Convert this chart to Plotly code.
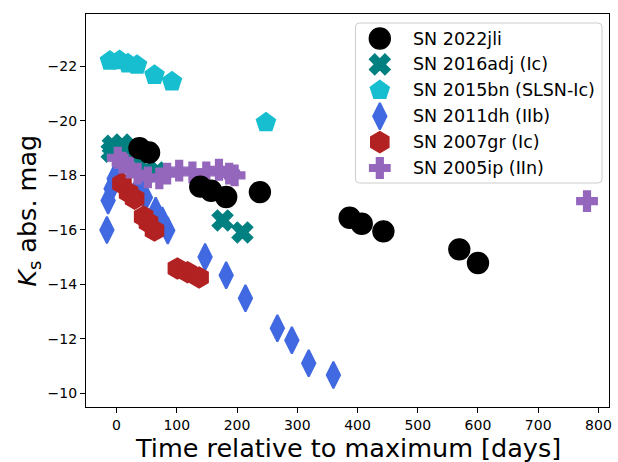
import plotly.graph_objects as go

# ---- light-curve data: days relative to maximum, Ks absolute magnitude ----
sn2022jli_t = [38, 54, 139, 157, 182, 238, 387, 407, 443, 569, 600]
sn2022jli_m = [-18.99, -18.83, -17.58, -17.43, -17.20, -17.38, -16.44, -16.22, -15.94, -15.28, -14.78]

sn2016adj_t = [-8, -6, 9, 25, 50, 66, 176, 209]
sn2016adj_m = [-18.86, -19.08, -19.12, -18.79, -18.17, -18.10, -16.34, -15.90]

sn2015bn_t = [-11, 5, 19, 34, 63, 92, 248]
sn2015bn_m = [-22.19, -22.21, -22.09, -22.04, -21.67, -21.43, -19.93]

sn2011dh_t = [-16, -14, -9, -4, 4, 38, 48, 65, 76, 85, 147, 182, 214, 267, 291, 319, 360]
sn2011dh_m = [-15.99, -17.07, -17.50, -17.87, -18.17, -17.62, -17.18, -16.70, -16.34, -15.97,
              -15.00, -14.33, -13.49, -12.39, -11.95, -11.10, -10.67]

sn2007gr_t = [9, 20, 30, 45, 53, 63, 101, 118, 137]
sn2007gr_m = [-17.69, -17.36, -17.14, -16.48, -16.26, -15.97, -14.58, -14.44, -14.25]

sn2005ip_t = [2, 10, 22, 35, 52, 71, 84, 104, 126, 149, 170, 187, 196, 781]
sn2005ip_m = [-18.64, -18.46, -18.28, -18.06, -17.92, -17.88, -18.06, -18.17, -18.10, -18.10,
              -18.20, -18.06, -17.99, -17.05]

x_ticks = [0, 100, 200, 300, 400, 500, 600, 700, 800]
y_ticks = [-22, -20, -18, -16, -14, -12, -10]

# label, times, mags, symbol, colour, size, edge width  (legend order)
series = [
    ("SN 2022jli", sn2022jli_t, sn2022jli_m, "circle", "#000000", 21, 1.4),
    ("SN 2016adj (Ic)", sn2016adj_t, sn2016adj_m, "x", "#008080", 18, 1.6),
    ("SN 2015bn (SLSN-Ic)", sn2015bn_t, sn2015bn_m, "pentagon", "#17becf", 20, 1.4),
    ("SN 2011dh (IIb)", sn2011dh_t, sn2011dh_m, "diamond-tall", "#4169e1", 19, 2.0),
    ("SN 2007gr (Ic)", sn2007gr_t, sn2007gr_m, "hexagon", "#b22222", 21, 1.4),
    ("SN 2005ip (IIn)", sn2005ip_t, sn2005ip_m, "cross", "#9467bd", 17, 1.4),
]

W, H = 618, 462
ML, MR, MT, MB = 86, 6, 14, 55
FONT = "DejaVu Sans"

fig = go.Figure()

# comparison objects first, SN 2022jli on top
for name, t, m, sym, col, sz, lw in series[1:] + series[:1]:
    fig.add_trace(go.Scatter(
        x=t, y=m, mode="markers", name=name, showlegend=False,
        marker=dict(symbol=sym, color=col, size=sz, line=dict(width=lw, color=col)),
        xaxis="x", yaxis="y",
    ))

# legend drawn on a pixel-coordinate overlay axis pair
leg_x0, leg_x1, leg_y0, leg_y1 = 357, 605, 23, 183
row0, row_step = 38.5, 25.9
mark_x, text_x = 381.5, 413
for i, (name, t, m, sym, col, sz, lw) in enumerate(series):
    yy = row0 + i * row_step
    fig.add_trace(go.Scatter(
        x=[mark_x], y=[yy], mode="markers", showlegend=False, hoverinfo="skip",
        marker=dict(symbol=sym, color=col, size=sz, line=dict(width=lw, color=col)),
        xaxis="x2", yaxis="y2",
    ))
    fig.add_annotation(x=text_x, y=yy, xref="x2", yref="y2", text=name,
                       showarrow=False, xanchor="left", yanchor="middle",
                       font=dict(family=FONT, size=17.5, color="black"))

r = 4
box = (f"M{leg_x0 + r},{leg_y0} L{leg_x1 - r},{leg_y0} Q{leg_x1},{leg_y0} {leg_x1},{leg_y0 + r} "
       f"L{leg_x1},{leg_y1 - r} Q{leg_x1},{leg_y1} {leg_x1 - r},{leg_y1} "
       f"L{leg_x0 + r},{leg_y1} Q{leg_x0},{leg_y1} {leg_x0},{leg_y1 - r} "
       f"L{leg_x0},{leg_y0 + r} Q{leg_x0},{leg_y0} {leg_x0 + r},{leg_y0} Z")
fig.add_shape(type="path", path=box, xref="x2", yref="y2", layer="below",
              fillcolor="rgba(255,255,255,0.8)", line=dict(color="#cccccc", width=1))

axis_common = dict(showgrid=False, zeroline=False, showline=True, mirror=True,
                   linecolor="black", linewidth=1.1, ticks="outside", ticklen=5,
                   tickwidth=1.1, tickcolor="black",
                   tickfont=dict(family=FONT, size=14, color="black"))

fig.update_layout(
    width=W, height=H,
    margin=dict(l=ML, r=MR, t=MT, b=MB),
    paper_bgcolor="white", plot_bgcolor="white",
    showlegend=False,
    xaxis=dict(range=[-50.7, 817.5], tickvals=x_ticks, **axis_common),
    yaxis=dict(range=[-9.50, -23.91], tickvals=y_ticks, **axis_common),
    xaxis2=dict(range=[ML, W - MR], overlaying="x", visible=False, anchor="y2"),
    yaxis2=dict(range=[H - MB, MT], overlaying="y", visible=False, anchor="x2"),
)

pw, ph = W - ML - MR, H - MT - MB
fig.add_annotation(x=(350 - ML) / pw, y=(H - MB - 447.5) / ph, xref="paper", yref="paper",
                   text="Time relative to maximum [days]", showarrow=False,
                   xanchor="center", yanchor="middle", borderpad=0,
                   font=dict(family=FONT, size=25.5, color="black"))
fig.add_annotation(x=(28 - ML) / pw, y=0.5, xref="paper", yref="paper",
                   text="<i>K</i><sub>s</sub> abs. mag", showarrow=False, textangle=-90,
                   xanchor="center", yanchor="middle",
                   font=dict(family=FONT, size=25.5, color="black"))

fig.write_html("out.html")
